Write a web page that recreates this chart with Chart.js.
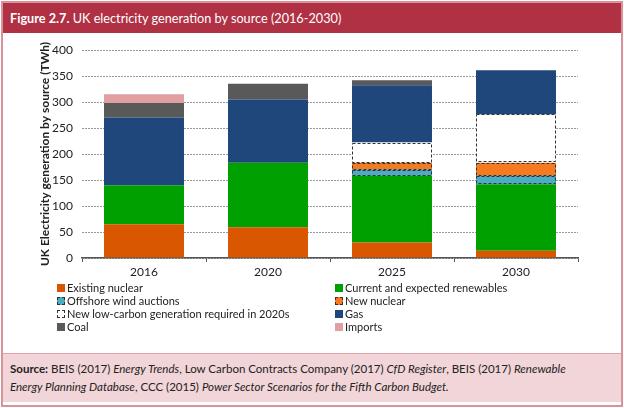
<!DOCTYPE html>
<html>
<head>
<meta charset="utf-8">
<script src="https://cdn.jsdelivr.net/npm/chart.js@4.4.1/dist/chart.umd.min.js"></script>
<style>
  html, body { margin: 0; padding: 0; background: #fff; }
  body { width: 624px; height: 408px; position: relative; overflow: hidden; font-family: Lato, "Open Sans", sans-serif; color: #222; }
  #chart { position: absolute; left: 0; top: 0; }
  #frame { position: absolute; left: 1px; top: 1px; width: 618px; height: 402px; border: 2px solid #d9919a; pointer-events: none; }
  #titlebar { position: absolute; left: 3px; top: 3px; width: 618px; height: 30px; background: #b03044; color: #fff; font-size: 12.7px; line-height: 31px; padding-left: 7px; box-sizing: border-box; }
  #source { position: absolute; left: 3px; top: 353px; width: 618px; height: 49px; background: #f2d5d8; border-top: 1px solid #dea3aa; box-sizing: border-box; font-size: 11.5px; line-height: 18px; padding: 6px 0 0 7px; color: #222; }
  .leg { position: absolute; font-size: 11px; line-height: 13px; white-space: nowrap; }
  .leg i { position: absolute; left: 0; top: 3px; width: 8px; height: 8px; box-sizing: border-box; }
  .leg span { position: absolute; left: 10px; top: 0; }
</style>
</head>
<body>
<canvas id="chart" width="624" height="408"></canvas>
<div id="titlebar"><b>Figure 2.7.</b> UK electricity generation by source (2016-2030)</div>
<div id="legend"></div>
<div id="source"><b>Source:</b> BEIS (2017) <i>Energy Trends</i>, Low Carbon Contracts Company (2017) <i>CfD Register</i>, BEIS (2017) <i>Renewable<br>Energy Planning Database</i>, CCC (2015) <i>Power Sector Scenarios for the Fifth Carbon Budget.</i></div>
<div id="frame"></div>
<script>
// データ
const years = ["2016", "2020", "2025", "2030"]
const existingNuclear = [65, 59, 30, 14]
const renewables = [75, 124, 128, 128]
const offshoreWind = [0, 0, 12, 16]
const newNuclear = [0, 0, 13, 25]
const newLowCarbon = [0, 0, 39, 93]
const gas = [130, 122, 110, 85]
const coal = [28, 30, 10, 0]
const imports = [17, 0, 0, 0]
const yTicks = [0, 50, 100, 150, 200, 250, 300, 350, 400]

const series = [
  { label: "Existing nuclear", data: existingNuclear, color: "#d95700" },
  { label: "Current and expected renewables", data: renewables, color: "#00a000" },
  { label: "Offshore wind auctions", data: offshoreWind, color: "#4bacc6", dashed: true },
  { label: "New nuclear", data: newNuclear, color: "#f47b20", dashed: true },
  { label: "New low-carbon generation required in 2020s", data: newLowCarbon, color: "#ffffff", dashed: true },
  { label: "Gas", data: gas, color: "#1f477b" },
  { label: "Coal", data: coal, color: "#595959" },
  { label: "Imports", data: imports, color: "#e19fa1" },
]

// 破線の枠
const dashedOutline = {
  id: "dashedOutline",
  afterDatasetsDraw(chart) {
    const ctx = chart.ctx
    chart.data.datasets.forEach((ds, i) => {
      if (!ds.dashed) return
      chart.getDatasetMeta(i).data.forEach((bar, j) => {
        if (!ds.data[j]) return
        const { x, y, base, width } = bar.getProps(["x", "y", "base", "width"], true)
        ctx.save()
        ctx.setLineDash([3, 2])
        ctx.strokeStyle = "#333"
        ctx.lineWidth = 1
        ctx.strokeRect(Math.round(x - width / 2) + 0.5, Math.round(y) + 0.5, Math.round(width) - 1, Math.round(base - y) - 1)
        ctx.restore()
      })
    })
  },
}

new Chart(document.getElementById("chart"), {
  type: "bar",
  data: {
    labels: years,
    datasets: series.map((s) => ({
      label: s.label,
      data: s.data,
      backgroundColor: s.color,
      dashed: !!s.dashed,
      borderWidth: 0,
      barPercentage: 0.645,
      categoryPercentage: 1,
    })),
  },
  options: {
    responsive: false,
    animation: false,
    layout: { padding: { left: 0, right: 46, top: 50, bottom: 128 } },
    plugins: { legend: { display: false }, tooltip: { enabled: false } },
    scales: {
      x: {
        stacked: true,
        afterFit: (s) => { s.height = 22 },
        grid: { offset: true, drawOnChartArea: false, drawTicks: true, tickLength: 4, color: "#555" },
        border: { display: true, color: "#555", width: 1.5 },
        ticks: { color: "#222", font: { family: "Lato", size: 12 }, padding: 3 },
      },
      y: {
        stacked: true,
        min: 0,
        max: 400,
        afterFit: (s) => { s.width = 82 },
        afterBuildTicks: (s) => { s.ticks = yTicks.map((v) => ({ value: v })) },
        grid: { drawTicks: false, color: "#999", lineWidth: 1 },
        border: { display: false, dash: [2, 1] },
        ticks: { color: "#222", font: { family: "Lato", size: 12 }, padding: 9 },
        title: {
          display: true,
          text: "UK Electricity generation by source (TWh)",
          color: "#222",
          font: { family: "Lato", size: 12, weight: "bold" },
          padding: { top: 38, bottom: 0 },
        },
      },
    },
  },
  plugins: [dashedOutline],
})

// 凡例 (2列)
const legend = document.getElementById("legend")
const legendOrder = [0, 2, 4, 6, 1, 3, 5, 7]
legendOrder.forEach((idx, k) => {
  const s = series[idx]
  const col = k < 4 ? 0 : 1
  const row = k % 4
  const el = document.createElement("div")
  el.className = "leg"
  el.style.left = (col ? 335 : 57) + "px"
  el.style.top = (281 + row * 13) + "px"
  const box = document.createElement("i")
  box.style.background = s.color
  if (s.dashed) box.style.border = "1px dashed #333"
  const txt = document.createElement("span")
  txt.textContent = s.label
  el.appendChild(box)
  el.appendChild(txt)
  legend.appendChild(el)
})
</script>
</body>
</html>
